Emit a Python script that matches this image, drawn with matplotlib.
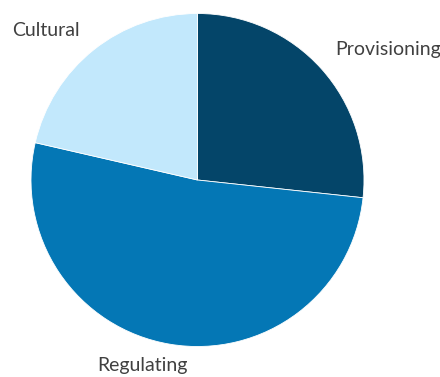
import matplotlib
matplotlib.use("Agg")
import matplotlib.pyplot as plt

labels = ["Provisioning", "Regulating", "Cultural"]
values = [26.7, 51.9, 21.4]
colors = ["#044569", "#0477b5", "#c2e8fc"]

fig = plt.figure(figsize=(4.4, 3.77), dpi=100)
ax = fig.add_axes([0, 0, 1, 1])

ax.pie(values, colors=colors, startangle=90, counterclock=False,
       center=(197.5, 377 - 180), radius=166.5,
       wedgeprops=dict(linewidth=0.6, edgecolor="white"), frame=True)
ax.set_xlim(0, 440)
ax.set_ylim(0, 377)
ax.set_aspect("equal")
ax.axis("off")

txt = dict(fontsize=14, color="#404040", family="Lato", va="center")
ax.text(12, 377 - 30, labels[2], ha="left", **txt)
ax.text(335, 377 - 50, labels[0], ha="left", **txt)
ax.text(97, 377 - 366, labels[1], ha="left", **txt)

fig.savefig("out.png", dpi=100)
